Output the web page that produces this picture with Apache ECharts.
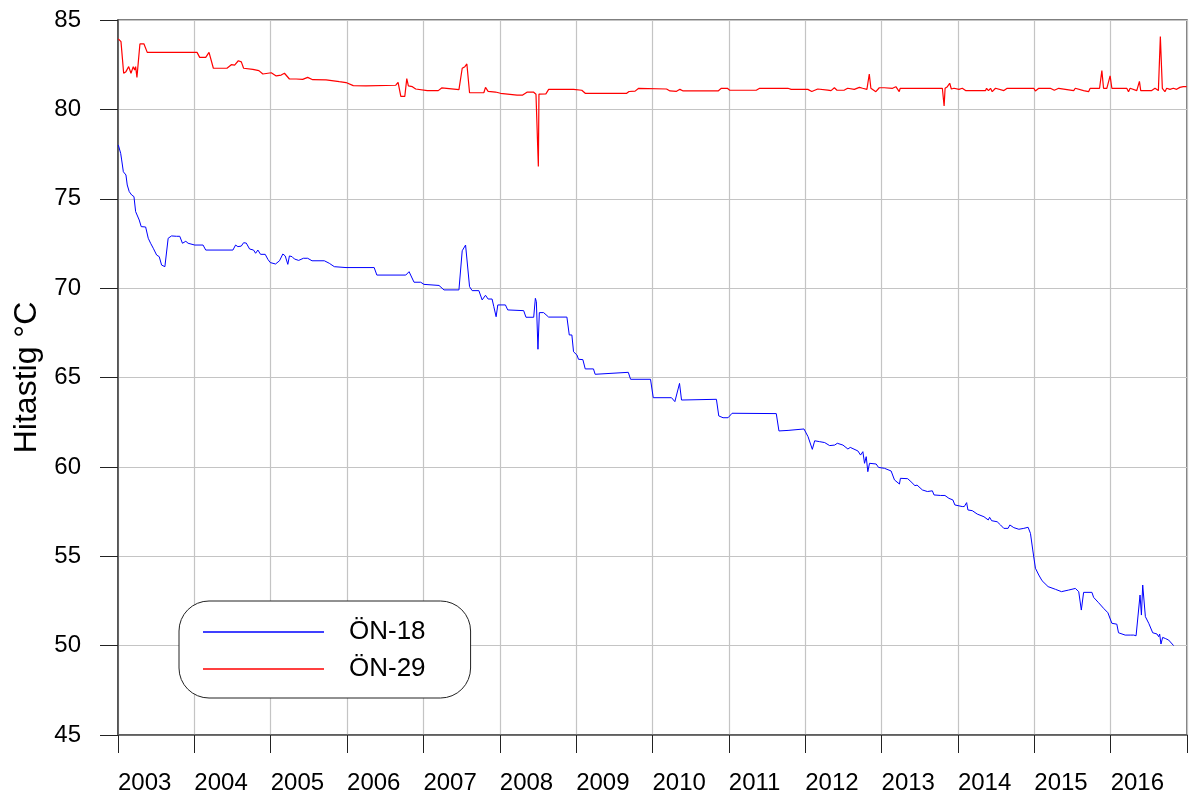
<!DOCTYPE html>
<html>
<head>
<meta charset="utf-8">
<title>Hitastig</title>
<script src="https://cdn.jsdelivr.net/npm/echarts@6/dist/echarts.min.js"></script>
<style>
  html, body { margin: 0; padding: 0; background: #fff; }
  #main { width: 1190px; height: 799px; }
</style>
</head>
<body>
<div id="main"></div>
<script>
// series names
var seriesNames = ['ÖN-18', 'ÖN-29'];

// year labels on the x axis
var yearLabels = ['2003', '2004', '2005', '2006', '2007', '2008', '2009',
    '2010', '2011', '2012', '2013', '2014', '2015', '2016'];

// ÖN-18 : [decimal year, temperature]
var on18 = [
    [2003.004, 78.01], [2003.035, 77.54], [2003.048, 77.17], [2003.070, 76.51],
    [2003.091, 76.60], [2003.104, 76.33], [2003.121, 75.77], [2003.147, 75.40],
    [2003.179, 75.21], [2003.209, 75.12], [2003.231, 74.28], [2003.278, 73.81],
    [2003.304, 73.44], [2003.362, 73.42], [2003.396, 72.79], [2003.427, 72.51],
    [2003.462, 72.23], [2003.506, 71.85], [2003.540, 71.76], [2003.571, 71.29],
    [2003.614, 71.20], [2003.657, 72.79], [2003.701, 72.92], [2003.766, 72.90],
    [2003.809, 72.90], [2003.844, 72.51], [2003.888, 72.62], [2003.918, 72.51],
    [2004.005, 72.41], [2004.114, 72.41], [2004.149, 72.13], [2004.505, 72.13],
    [2004.540, 72.41], [2004.570, 72.32], [2004.614, 72.35], [2004.645, 72.54],
    [2004.680, 72.52], [2004.723, 72.19], [2004.775, 72.13], [2004.802, 71.95],
    [2004.832, 72.13], [2004.867, 71.89], [2004.928, 71.89], [2004.963, 71.61],
    [2004.994, 71.43], [2005.063, 71.35], [2005.115, 71.53], [2005.159, 71.91],
    [2005.190, 71.80], [2005.224, 71.33], [2005.245, 71.80], [2005.280, 71.76],
    [2005.310, 71.63], [2005.366, 71.55], [2005.428, 71.67], [2005.484, 71.67],
    [2005.541, 71.53], [2005.702, 71.53], [2005.767, 71.39], [2005.833, 71.20],
    [2005.986, 71.15], [2006.355, 71.15], [2006.390, 70.73], [2006.769, 70.73],
    [2006.812, 70.92], [2006.836, 70.88], [2006.877, 70.33], [2006.964, 70.33],
    [2007.007, 70.21], [2007.204, 70.15], [2007.269, 69.90], [2007.465, 69.90],
    [2007.478, 69.95], [2007.508, 72.09], [2007.530, 72.17], [2007.552, 72.41],
    [2007.569, 72.45], [2007.604, 70.08], [2007.638, 69.86], [2007.726, 69.86],
    [2007.769, 69.34], [2007.791, 69.36], [2007.813, 69.60], [2007.847, 69.39],
    [2007.899, 69.39], [2007.922, 68.96], [2007.952, 68.40], [2007.974, 69.06],
    [2008.074, 69.06], [2008.104, 68.78], [2008.313, 68.74], [2008.343, 68.37],
    [2008.444, 68.37], [2008.466, 69.43], [2008.479, 69.24], [2008.500, 66.58],
    [2008.518, 68.63], [2008.574, 68.63], [2008.640, 68.38], [2008.879, 68.38],
    [2008.910, 67.38], [2008.944, 67.38], [2008.966, 66.44], [2009.010, 66.26],
    [2009.031, 66.02], [2009.088, 66.00], [2009.119, 65.48], [2009.227, 65.48],
    [2009.249, 65.18], [2009.270, 65.29], [2009.683, 65.29], [2009.713, 64.90],
    [2009.974, 64.90], [2010.010, 63.87], [2010.249, 63.87], [2010.293, 63.65],
    [2010.315, 63.65], [2010.354, 64.67], [2010.380, 63.74], [2010.837, 63.78],
    [2010.868, 62.85], [2010.924, 62.75], [2010.990, 62.75], [2011.042, 63.00],
    [2011.621, 62.98], [2011.656, 62.01], [2011.775, 62.04], [2011.984, 62.12],
    [2012.037, 61.69], [2012.093, 60.98], [2012.124, 61.46], [2012.189, 61.41],
    [2012.255, 61.36], [2012.320, 61.19], [2012.386, 61.22], [2012.420, 61.32],
    [2012.494, 61.22], [2012.559, 61.00], [2012.590, 61.09], [2012.690, 60.89],
    [2012.725, 60.66], [2012.755, 60.85], [2012.777, 60.20], [2012.799, 60.57],
    [2012.820, 59.73], [2012.842, 60.20], [2012.929, 60.16], [2012.960, 59.97],
    [2013.038, 59.92], [2013.125, 59.77], [2013.169, 59.27], [2013.234, 59.04],
    [2013.247, 59.36], [2013.342, 59.34], [2013.385, 59.17], [2013.437, 58.95],
    [2013.465, 58.98], [2013.534, 58.71], [2013.600, 58.62], [2013.665, 58.66],
    [2013.687, 58.43], [2013.774, 58.40], [2013.830, 58.40], [2013.882, 58.24],
    [2013.934, 58.15], [2013.960, 57.87], [2014.056, 57.78], [2014.083, 57.78],
    [2014.114, 58.00], [2014.131, 57.59], [2014.188, 57.55], [2014.253, 57.36],
    [2014.341, 57.21], [2014.397, 57.03], [2014.415, 57.18], [2014.441, 56.99],
    [2014.514, 56.93], [2014.558, 56.75], [2014.601, 56.56], [2014.657, 56.56],
    [2014.680, 56.75], [2014.732, 56.60], [2014.798, 56.51], [2014.863, 56.56],
    [2014.919, 56.62], [2014.950, 56.28], [2014.980, 55.35], [2015.015, 54.33],
    [2015.059, 53.95], [2015.102, 53.63], [2015.181, 53.30], [2015.277, 53.15],
    [2015.356, 53.02], [2015.451, 53.11], [2015.538, 53.20], [2015.582, 53.02],
    [2015.616, 51.99], [2015.646, 52.98], [2015.755, 52.98], [2015.777, 52.70],
    [2015.842, 52.40], [2015.907, 52.09], [2015.964, 51.84], [2016.016, 51.25],
    [2016.081, 51.20], [2016.103, 50.72], [2016.190, 50.59], [2016.256, 50.59],
    [2016.277, 50.50], [2016.303, 50.59], [2016.333, 50.55], [2016.359, 50.55],
    [2016.385, 52.83], [2016.403, 51.71], [2016.420, 53.39], [2016.455, 51.62],
    [2016.499, 51.25], [2016.551, 50.72], [2016.607, 50.65], [2016.629, 50.50],
    [2016.642, 50.65], [2016.659, 50.09], [2016.681, 50.46], [2016.716, 50.40],
    [2016.760, 50.31], [2016.825, 50.00]
];

// ÖN-29 : [decimal year, temperature]
var on29 = [
    [2003.004, 83.94], [2003.039, 83.79], [2003.074, 82.02], [2003.104, 82.11],
    [2003.140, 82.39], [2003.170, 82.02], [2003.200, 82.39], [2003.218, 82.20],
    [2003.231, 82.39], [2003.248, 81.79], [2003.287, 83.66], [2003.339, 83.67],
    [2003.383, 83.19], [2004.035, 83.19], [2004.070, 82.91], [2004.149, 82.91],
    [2004.192, 83.19], [2004.218, 83.10], [2004.249, 82.30], [2004.427, 82.30],
    [2004.484, 82.50], [2004.527, 82.48], [2004.576, 82.72], [2004.615, 82.66],
    [2004.645, 82.30], [2004.766, 82.24], [2004.845, 82.17], [2004.897, 81.98],
    [2004.923, 82.07], [2005.007, 82.05], [2005.072, 81.87], [2005.137, 81.92],
    [2005.180, 82.02], [2005.245, 81.70], [2005.333, 81.70], [2005.419, 81.68],
    [2005.484, 81.79], [2005.550, 81.66], [2005.725, 81.65], [2005.898, 81.55],
    [2005.986, 81.50], [2006.081, 81.33], [2006.247, 81.31], [2006.638, 81.35],
    [2006.668, 81.51], [2006.704, 80.73], [2006.756, 80.73], [2006.782, 81.72],
    [2006.803, 81.31], [2006.855, 81.27], [2006.899, 81.14], [2007.051, 81.05],
    [2007.194, 81.05], [2007.239, 81.20], [2007.465, 81.10], [2007.487, 81.00],
    [2007.508, 82.30], [2007.543, 82.39], [2007.569, 82.54], [2007.604, 80.93],
    [2007.791, 80.93], [2007.813, 81.23], [2007.847, 81.01], [2007.944, 80.97],
    [2008.009, 80.90], [2008.226, 80.80], [2008.300, 80.80], [2008.356, 80.96],
    [2008.444, 80.96], [2008.474, 80.85], [2008.496, 80.85], [2008.505, 76.80],
    [2008.513, 80.85], [2008.604, 80.87], [2008.640, 81.12], [2008.966, 81.12],
    [2009.074, 81.07], [2009.119, 80.90], [2009.662, 80.90], [2009.693, 81.00],
    [2009.772, 81.02], [2009.819, 81.18], [2010.184, 81.14], [2010.229, 81.03],
    [2010.315, 81.01], [2010.359, 81.12], [2010.402, 81.03], [2010.859, 81.03],
    [2010.902, 81.18], [2010.980, 81.18], [2011.012, 81.07], [2011.359, 81.07],
    [2011.403, 81.18], [2011.773, 81.18], [2011.816, 81.12], [2012.034, 81.12],
    [2012.056, 81.20], [2012.086, 81.00], [2012.112, 81.10], [2012.164, 81.14],
    [2012.295, 81.08], [2012.338, 81.05], [2012.382, 81.21], [2012.416, 81.07],
    [2012.513, 81.08], [2012.556, 81.18], [2012.578, 81.07], [2012.643, 81.12],
    [2012.709, 81.23], [2012.752, 81.18], [2012.808, 81.12], [2012.839, 81.98],
    [2012.860, 81.18], [2012.925, 80.99], [2012.970, 81.21], [2013.035, 81.21],
    [2013.144, 81.18], [2013.187, 81.27], [2013.231, 80.99], [2013.244, 81.18],
    [2013.601, 81.18], [2013.614, 81.27], [2013.627, 81.18], [2013.796, 81.18],
    [2013.819, 80.19], [2013.832, 81.18], [2013.862, 81.27], [2013.892, 81.46],
    [2013.914, 81.14], [2013.949, 81.18], [2014.014, 81.12], [2014.057, 81.18],
    [2014.100, 81.05], [2014.362, 81.05], [2014.375, 81.18], [2014.400, 81.05],
    [2014.427, 81.18], [2014.449, 80.99], [2014.492, 81.18], [2014.602, 81.05],
    [2014.645, 81.18], [2014.994, 81.18], [2015.014, 81.03], [2015.059, 81.18],
    [2015.210, 81.18], [2015.262, 81.07], [2015.320, 81.18], [2015.516, 81.05],
    [2015.537, 81.18], [2015.646, 81.05], [2015.711, 80.99], [2015.732, 81.18],
    [2015.855, 81.18], [2015.885, 82.17], [2015.907, 81.18], [2015.950, 81.18],
    [2015.993, 81.87], [2016.016, 81.18], [2016.211, 81.18], [2016.234, 80.99],
    [2016.255, 81.18], [2016.342, 81.05], [2016.377, 81.57], [2016.394, 81.05],
    [2016.538, 81.05], [2016.581, 81.18], [2016.625, 81.05], [2016.651, 84.07],
    [2016.677, 81.18], [2016.711, 80.99], [2016.734, 81.18], [2016.777, 81.12],
    [2016.821, 81.18], [2016.864, 81.12], [2016.907, 81.23], [2016.951, 81.27],
    [2016.995, 81.27]
];

var fontFam = '"Liberation Sans", Arial, sans-serif';

var myChart = echarts.init(document.getElementById('main'), null, { renderer: 'canvas' });

var option = {
    animation: false,
    backgroundColor: '#ffffff',
    textStyle: { fontFamily: fontFam },
    grid: {
        left: 118,
        right: 1,
        top: 20,
        bottom: 64,
        show: true,
        borderColor: '#555',
        borderWidth: 1.5
    },
    legend: {
        orient: 'vertical',
        left: 179,
        top: 601,
        padding: [18, 45, 16, 24],
        icon: 'rect',
        itemWidth: 121,
        itemHeight: 1.3,
        itemGap: 11,
        borderColor: '#222',
        borderWidth: 1,
        borderRadius: 30,
        backgroundColor: '#fff',
        data: seriesNames,
        textStyle: {
            fontFamily: fontFam,
            fontSize: 26,
            lineHeight: 26,
            color: '#000',
            padding: [0, 0, 0, 20]
        }
    },
    xAxis: {
        type: 'value',
        min: 2003,
        max: 2017,
        interval: 1,
        axisLine: { show: true, lineStyle: { color: '#555', width: 1.5 } },
        axisTick: { show: true, inside: false, length: 18, lineStyle: { color: '#222', width: 1 } },
        splitLine: { show: true, lineStyle: { color: '#c4c4c4', width: 1.2 } },
        axisLabel: {
            show: true,
            margin: 36,
            align: 'left',
            fontSize: 24,
            color: '#000',
            fontFamily: fontFam,
            formatter: function (v) {
                var i = Math.round(v) - 2003;
                return (i >= 0 && i < yearLabels.length) ? yearLabels[i] : '';
            }
        }
    },
    yAxis: {
        type: 'value',
        min: 45,
        max: 85,
        interval: 5,
        name: 'Hitastig °C',
        nameLocation: 'middle',
        nameRotate: 90,
        nameGap: 73,
        nameTextStyle: { fontSize: 32, color: '#000', fontFamily: fontFam },
        axisLine: { show: true, lineStyle: { color: '#444', width: 1.5 } },
        axisTick: { show: true, inside: false, length: 18, lineStyle: { color: '#222', width: 1 } },
        splitLine: { show: true, lineStyle: { color: '#c4c4c4', width: 1.2 } },
        axisLabel: { margin: 37, fontSize: 24, color: '#000', fontFamily: fontFam }
    },
    series: [
        {
            name: seriesNames[0],
            type: 'line',
            data: on18,
            symbol: 'none',
            lineStyle: { color: '#0000ff', width: 1 },
            itemStyle: { color: '#0000ff' },
            z: 3
        },
        {
            name: seriesNames[1],
            type: 'line',
            data: on29,
            symbol: 'none',
            lineStyle: { color: '#ff0000', width: 1.2 },
            itemStyle: { color: '#ff0000' },
            z: 3
        }
    ]
};

myChart.setOption(option);
</script>
</body>
</html>
